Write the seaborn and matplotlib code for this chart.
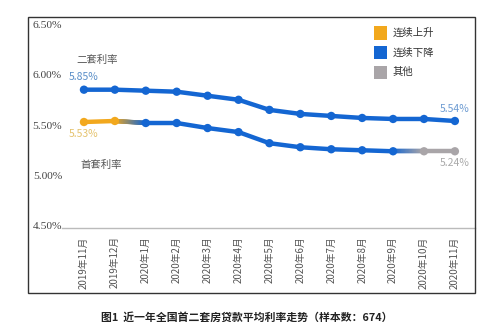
import numpy as np
import pandas as pd
import matplotlib
matplotlib.use("Agg")
import matplotlib.pyplot as plt
import seaborn as sns
from matplotlib.collections import LineCollection
from matplotlib.colors import to_rgb
from matplotlib.patches import Rectangle

months = ["2019年11月", "2019年12月", "2020年1月", "2020年2月", "2020年3月", "2020年4月",
          "2020年5月", "2020年6月", "2020年7月", "2020年8月", "2020年9月", "2020年10月", "2020年11月"]
second_rate = [5.85, 5.85, 5.84, 5.83, 5.79, 5.75, 5.65, 5.61, 5.59, 5.57, 5.56, 5.56, 5.54]
first_rate = [5.53, 5.54, 5.52, 5.52, 5.47, 5.43, 5.32, 5.28, 5.26, 5.25, 5.24, 5.24, 5.24]
first_status = ["连续上升", "连续上升", "连续下降", "连续下降", "连续下降", "连续下降", "连续下降",
                "连续下降", "连续下降", "连续下降", "连续下降", "其他", "其他"]
yticks = [4.50, 5.00, 5.50, 6.00, 6.50]
title = "图1  近一年全国首二套房贷款平均利率走势（样本数：674）"

ORANGE = "#F2A81D"
BLUE = "#1466D2"
GRAY = "#A9A5A8"
palette = {"连续上升": ORANGE, "连续下降": BLUE, "其他": GRAY}

sns.set_theme(style="white")
plt.rcParams["font.family"] = ["Noto Sans CJK SC", "DejaVu Sans"]

fig = plt.figure(figsize=(4.93, 3.22), dpi=100)
ax = fig.add_axes([62 / 493, 1 - 228 / 322, (475 - 62) / 493, (228 - 17) / 322])

x = np.arange(len(months))
df2 = pd.DataFrame({"x": x, "rate": second_rate})
df1 = pd.DataFrame({"x": x, "rate": first_rate, "status": first_status})

lw = 3.2
# second-home line (all blue)
sns.lineplot(data=df2, x="x", y="rate", color=BLUE, lw=lw, ax=ax, zorder=3)
sns.scatterplot(data=df2, x="x", y="rate", color=BLUE, s=36, edgecolor="none", ax=ax, zorder=4)

# first-home line, segments per status
for st, col in palette.items():
    sub = df1[df1["status"] == st]
    sns.lineplot(data=sub, x="x", y="rate", color=col, lw=lw, ax=ax, zorder=3)

def gradient(i, c0, c1):
    t = np.linspace(0, 1, 40)
    xs = x[i] + (x[i + 1] - x[i]) * t
    ys = first_rate[i] + (first_rate[i + 1] - first_rate[i]) * t
    pts = np.column_stack([xs, ys]).reshape(-1, 1, 2)
    segs = np.concatenate([pts[:-1], pts[1:]], axis=1)
    a, b = np.array(to_rgb(c0)), np.array(to_rgb(c1))
    cols = [a + (b - a) * tt for tt in t[:-1]]
    lc = LineCollection(segs, colors=cols, linewidths=lw, zorder=3, capstyle="round")
    ax.add_collection(lc)

gradient(1, ORANGE, BLUE)
gradient(10, BLUE, GRAY)

sns.scatterplot(data=df1, x="x", y="rate", hue="status", palette=palette, s=36,
                edgecolor="none", ax=ax, zorder=4, legend=False)

ax.set_xlim(-0.71, 12.65)
ax.set_ylim(4.48, 6.57)
ax.set_yticks(yticks)
ax.set_yticklabels([f"{v:.2f}%" for v in yticks], fontsize=8.2, color="#444444",
                   family=["Liberation Serif", "DejaVu Serif"])
ax.set_xticks(x)
ax.set_xticklabels(months, rotation=90, fontsize=7, color="#555555")
ax.tick_params(axis="both", length=0)
ax.tick_params(axis="y", pad=0)
ax.tick_params(axis="x", pad=6)
ax.set_xlabel("")
ax.set_ylabel("")
for s in ["top", "right", "left"]:
    ax.spines[s].set_visible(False)
ax.spines["bottom"].set_color("#BBBBBB")
ax.spines["bottom"].set_linewidth(1.0)
ax.grid(False)

# annotations
ax.text(-0.25, 6.00 + 0.14, "二套利率", fontsize=7.5, color="#555555", ha="left", va="center")
ax.text(x[0], second_rate[0] + 0.13, f"{second_rate[0]:.2f}%", fontsize=7.5,
        color="#5B8FC8", ha="center", va="center")
ax.text(x[0], first_rate[0] - 0.12, f"{first_rate[0]:.2f}%", fontsize=7.5,
        color="#E5C36E", ha="center", va="center")
ax.text(-0.1, 5.10, "首套利率", fontsize=7.5, color="#555555", ha="left", va="center")
ax.text(x[-1], second_rate[-1] + 0.12, f"{second_rate[-1]:.2f}%", fontsize=7.5,
        color="#6E9CD2", ha="center", va="center")
ax.text(x[-1], first_rate[-1] - 0.12, f"{first_rate[-1]:.2f}%", fontsize=7.5,
        color="#AAAAAA", ha="center", va="center")

# legend
for i, (lab, col) in enumerate(palette.items()):
    yc = 1 - (33 + 19.5 * i) / 322
    fig.patches.append(Rectangle((374 / 493, yc - 6.5 / 322), 13 / 493, 13 / 322,
                                 transform=fig.transFigure, facecolor=col, edgecolor="none"))
    fig.text(393 / 493, yc, lab, fontsize=7.5, color="#333333", ha="left", va="center")

# outer frame
fig.patches.append(Rectangle((28 / 493, 1 - 293 / 322), (475 - 28) / 493, (293 - 17) / 322,
                             transform=fig.transFigure, fill=False, edgecolor="#333333", lw=1.0))

fig.text(247 / 493, 1 - 318 / 322, title, fontsize=7.8, fontweight="bold", color="#222222",
         ha="center", va="center")

fig.savefig("out.png", dpi=100, facecolor="white")
